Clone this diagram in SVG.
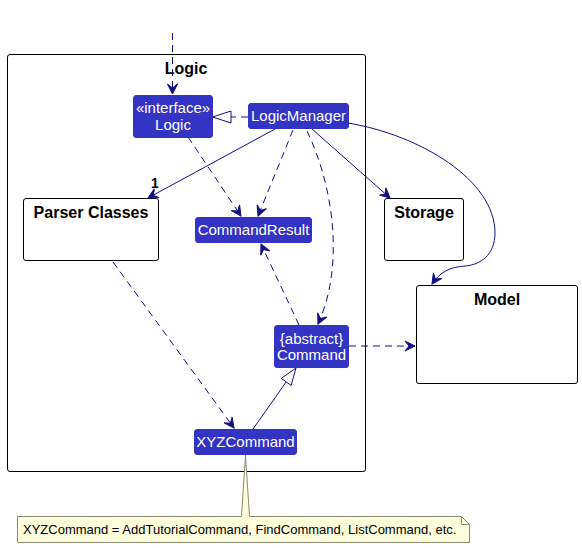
<svg xmlns="http://www.w3.org/2000/svg" width="582" height="548" viewBox="0 0 582 548">
<style>
.cls rect{fill:#3333C4;stroke:#3333C4;stroke-width:1}
.cls text{fill:#ffffff;font-family:"Liberation Sans",Arial,sans-serif;font-size:15px;text-anchor:middle}
.box rect{fill:#ffffff;stroke:#000000;stroke-width:1}
.box text,.title{fill:#000000;font-family:"Liberation Sans",Arial,sans-serif;font-size:16px;font-weight:bold;text-anchor:middle}
.e{fill:none;stroke:#101086;stroke-width:1}
.d{stroke-dasharray:7,5}
.note text{font-family:"Liberation Sans",Arial,sans-serif;font-size:13px;fill:#000000}
</style>
<defs>
<marker id="arr" markerWidth="12" markerHeight="10" refX="10" refY="5" orient="auto" markerUnits="userSpaceOnUse" overflow="visible">
<path d="M10,5 L0,0 L4,5 L0,10 Z" fill="#101086" stroke="#101086" stroke-width="1"/>
</marker>
</defs>
<rect width="582" height="548" fill="#ffffff"/>
<g id="pkg-logic">
<rect x="7.5" y="54.5" width="358" height="417" rx="2.5" fill="none" stroke="#000000" stroke-width="1"/>
<text class="title" x="186" y="74">Logic</text>
</g>
<g id="logic" class="cls">
<rect x="133.5" y="95.5" width="79" height="42" rx="2.5"/>
<text x="173" y="113">«interface»</text>
<text x="173" y="130">Logic</text>
</g>
<g id="logicmanager" class="cls">
<rect x="248.5" y="103.5" width="100" height="25" rx="2.5"/>
<text x="298.5" y="121">LogicManager</text>
</g>
<g id="parser" class="box">
<rect x="23.5" y="198.5" width="135" height="62" rx="2.5"/>
<text x="91" y="218">Parser Classes</text>
</g>
<g id="commandresult" class="cls">
<rect x="195.5" y="217.5" width="116" height="25" rx="2.5"/>
<text x="253.5" y="235">CommandResult</text>
</g>
<g id="storage" class="box">
<rect x="384.5" y="198.5" width="79" height="62" rx="2.5"/>
<text x="424" y="218">Storage</text>
</g>
<g id="model" class="box">
<rect x="416.5" y="285.5" width="161" height="98" rx="2.5"/>
<text x="497" y="305">Model</text>
</g>
<g id="command" class="cls">
<rect x="274.5" y="325.5" width="74" height="42" rx="2.5"/>
<text x="311.5" y="344">{abstract}</text>
<text x="311.5" y="360">Command</text>
</g>
<g id="xyzcommand" class="cls">
<rect x="194.5" y="429.5" width="102" height="25" rx="2.5"/>
<text x="245.5" y="447">XYZCommand</text>
</g>
<g id="note" class="note">
<path d="M17.5,516.5 L241.5,516.5 L245.5,455 L249.5,516.5 L461.5,516.5 L469.5,524.5 L469.5,542.5 L17.5,542.5 Z" fill="#FEFEDC" stroke="#8C8C70" stroke-width="1"/>
<path d="M461.5,516.5 L461.5,524.5 L469.5,524.5" fill="none" stroke="#8C8C70" stroke-width="1"/>
<text x="23" y="534">XYZCommand = AddTutorialCommand, FindCommand, ListCommand, etc.</text>
</g>
<g id="connectors">
<path class="e d" d="M172.5,33 L172.5,94" marker-end="url(#arr)"/>
<path class="e d" d="M248,117 L231,117"/>
<polygon points="212.5,117 231,111 231,123" fill="#ffffff" stroke="#101086" stroke-width="1"/>
<path class="e" d="M275,129 L148,198" marker-end="url(#arr)"/>
<text x="155" y="188" font-family="'Liberation Sans',Arial,sans-serif" font-size="14" font-weight="bold" text-anchor="middle">1</text>
<path class="e d" d="M188,137 L241,216" marker-end="url(#arr)"/>
<path class="e d" d="M293,130 L258,216" marker-end="url(#arr)"/>
<path class="e d" d="M307,131 C333,185 345,265 318,324" marker-end="url(#arr)"/>
<path class="e" d="M312,129 L390,198" marker-end="url(#arr)"/>
<path class="e" d="M348,123 C420,135 495,180 495,233 C495,255 480,265 465,266 C450,267 440,272 432,284" marker-end="url(#arr)"/>
<path class="e d" d="M299,325 L261,244" marker-end="url(#arr)"/>
<path class="e d" d="M349,346 L415,346" marker-end="url(#arr)"/>
<path class="e d" d="M113,262 L234,428" marker-end="url(#arr)"/>
<path class="e" d="M253,429 L286.2,381.9"/>
<polygon points="296,368 291.1,385.4 281.3,378.4" fill="#ffffff" stroke="#101086" stroke-width="1"/>
</g>
</svg>
